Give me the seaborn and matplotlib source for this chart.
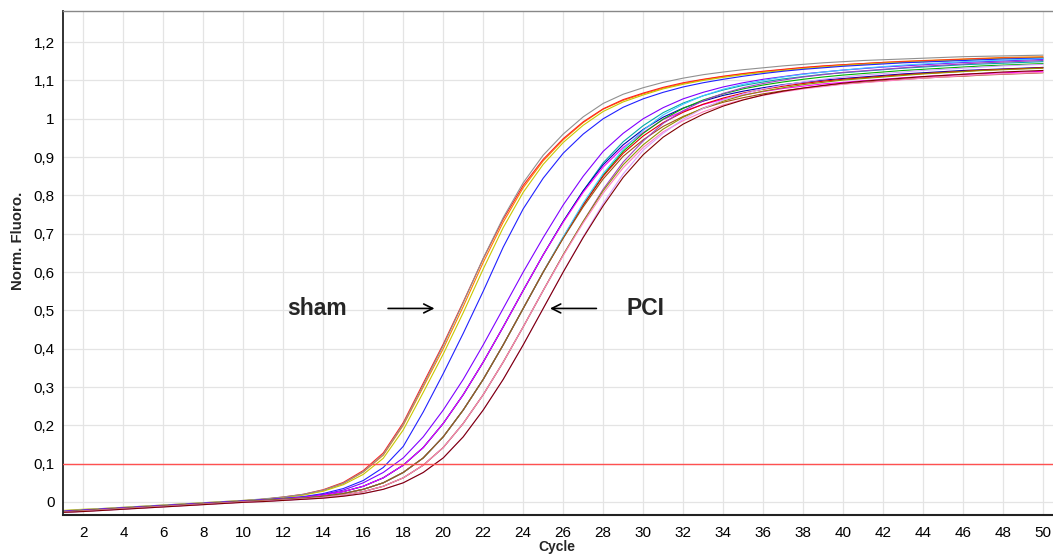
import numpy as np
import pandas as pd
import matplotlib
matplotlib.use("Agg")
import matplotlib.pyplot as plt
import seaborn as sns

cycles = list(range(1, 51))

# ---- sham group (earlier amplification) ----
sham_1 = [-0.024,-0.021,-0.018,-0.015,-0.012,-0.009,-0.006,-0.003,0.000,0.003,
          0.007,0.012,0.019,0.030,0.048,0.078,0.122,0.200,0.300,0.400,
          0.510,0.625,0.730,0.820,0.890,0.945,0.990,1.025,1.048,1.065,
          1.080,1.092,1.102,1.110,1.117,1.123,1.128,1.133,1.137,1.141,
          1.144,1.147,1.150,1.152,1.154,1.156,1.158,1.160,1.161,1.162]
sham_2 = [-0.026,-0.023,-0.019,-0.016,-0.013,-0.010,-0.007,-0.004,-0.001,0.003,
          0.007,0.013,0.020,0.032,0.051,0.082,0.128,0.207,0.310,0.412,
          0.522,0.635,0.738,0.826,0.894,0.948,0.992,1.026,1.050,1.067,
          1.082,1.094,1.103,1.111,1.118,1.124,1.129,1.134,1.138,1.141,
          1.144,1.147,1.149,1.151,1.153,1.155,1.157,1.158,1.159,1.160]
sham_3 = [-0.022,-0.019,-0.017,-0.014,-0.011,-0.008,-0.005,-0.002,0.001,0.004,
          0.007,0.011,0.018,0.028,0.045,0.072,0.114,0.188,0.286,0.386,
          0.494,0.608,0.716,0.808,0.881,0.938,0.983,1.019,1.044,1.062,
          1.078,1.090,1.100,1.108,1.115,1.121,1.126,1.131,1.135,1.139,
          1.142,1.145,1.147,1.149,1.151,1.153,1.155,1.157,1.158,1.159]
sham_4 = [-0.023,-0.020,-0.017,-0.014,-0.011,-0.008,-0.005,-0.002,0.001,0.004,
          0.008,0.013,0.020,0.031,0.049,0.079,0.124,0.203,0.305,0.408,
          0.520,0.636,0.742,0.833,0.905,0.960,1.005,1.040,1.064,1.081,
          1.095,1.106,1.115,1.122,1.128,1.133,1.138,1.142,1.146,1.149,
          1.152,1.154,1.156,1.158,1.160,1.162,1.163,1.164,1.165,1.166]
sham_5 = [-0.025,-0.022,-0.019,-0.016,-0.013,-0.010,-0.007,-0.004,-0.001,0.002,
          0.005,0.009,0.014,0.022,0.035,0.056,0.090,0.145,0.235,0.335,
          0.440,0.550,0.665,0.765,0.845,0.910,0.960,1.000,1.030,1.052,
          1.069,1.083,1.094,1.103,1.111,1.118,1.124,1.129,1.133,1.137,
          1.140,1.143,1.146,1.148,1.150,1.152,1.154,1.156,1.157,1.158]

# ---- PCI group (later amplification) ----
pci_a = [-0.025,-0.022,-0.019,-0.016,-0.013,-0.010,-0.007,-0.004,-0.001,0.002,
         0.005,0.009,0.013,0.020,0.031,0.050,0.077,0.115,0.170,0.240,
         0.320,0.410,0.505,0.600,0.690,0.775,0.850,0.915,0.962,1.000,
         1.029,1.052,1.069,1.083,1.094,1.103,1.110,1.117,1.122,1.127,
         1.131,1.135,1.138,1.141,1.144,1.147,1.149,1.151,1.153,1.155]
pci_b = [-0.025,-0.022,-0.019,-0.016,-0.013,-0.010,-0.007,-0.004,-0.001,0.002,
         0.005,0.008,0.012,0.018,0.027,0.041,0.063,0.096,0.142,0.205,
         0.280,0.365,0.457,0.552,0.645,0.732,0.812,0.885,0.940,0.982,
         1.016,1.041,1.060,1.075,1.087,1.096,1.104,1.110,1.116,1.120,
         1.124,1.128,1.132,1.135,1.138,1.141,1.143,1.145,1.147,1.149]
pci_c = [-0.025,-0.022,-0.019,-0.016,-0.013,-0.010,-0.007,-0.004,-0.001,0.002,
         0.005,0.008,0.012,0.018,0.027,0.041,0.063,0.096,0.142,0.205,
         0.280,0.365,0.457,0.552,0.645,0.732,0.812,0.880,0.932,0.972,
         1.004,1.028,1.046,1.061,1.072,1.081,1.089,1.095,1.101,1.105,
         1.109,1.113,1.117,1.120,1.123,1.126,1.128,1.130,1.132,1.134]
pci_d = [-0.025,-0.022,-0.019,-0.016,-0.013,-0.010,-0.007,-0.004,-0.001,0.002,
         0.005,0.008,0.012,0.018,0.027,0.041,0.063,0.096,0.142,0.205,
         0.280,0.365,0.457,0.552,0.645,0.730,0.808,0.874,0.925,0.964,
         0.998,1.020,1.037,1.051,1.062,1.071,1.079,1.085,1.091,1.095,
         1.099,1.103,1.107,1.110,1.113,1.116,1.118,1.120,1.122,1.124]
pci_e = [-0.026,-0.023,-0.020,-0.017,-0.014,-0.011,-0.008,-0.005,-0.002,0.001,
         0.004,0.007,0.010,0.015,0.022,0.033,0.050,0.077,0.115,0.170,
         0.240,0.320,0.410,0.505,0.600,0.690,0.775,0.853,0.915,0.962,
         0.999,1.027,1.049,1.065,1.078,1.088,1.096,1.103,1.109,1.114,
         1.118,1.122,1.126,1.129,1.132,1.135,1.138,1.140,1.142,1.144]
pci_f = [-0.026,-0.023,-0.020,-0.017,-0.014,-0.011,-0.008,-0.005,-0.002,0.001,
         0.004,0.007,0.010,0.015,0.022,0.033,0.050,0.077,0.115,0.170,
         0.240,0.320,0.410,0.505,0.600,0.690,0.775,0.850,0.910,0.955,
         0.990,1.017,1.038,1.054,1.067,1.077,1.085,1.092,1.098,1.103,
         1.107,1.111,1.115,1.118,1.121,1.124,1.127,1.129,1.131,1.133]
pci_g = [-0.026,-0.023,-0.020,-0.017,-0.014,-0.011,-0.008,-0.005,-0.002,0.001,
         0.004,0.007,0.010,0.015,0.022,0.033,0.050,0.077,0.115,0.170,
         0.240,0.320,0.410,0.505,0.600,0.692,0.780,0.857,0.920,0.970,
         1.010,1.038,1.060,1.077,1.090,1.100,1.109,1.116,1.122,1.127,
         1.132,1.136,1.140,1.143,1.146,1.149,1.151,1.153,1.155,1.157]
pci_h = [-0.026,-0.023,-0.020,-0.017,-0.014,-0.011,-0.008,-0.005,-0.002,0.001,
         0.004,0.007,0.010,0.015,0.022,0.033,0.050,0.077,0.115,0.170,
         0.240,0.320,0.410,0.505,0.600,0.688,0.770,0.843,0.902,0.945,
         0.980,1.006,1.027,1.043,1.055,1.065,1.073,1.080,1.086,1.091,
         1.095,1.099,1.103,1.106,1.109,1.111,1.114,1.116,1.118,1.120]
pci_i = [-0.027,-0.024,-0.021,-0.018,-0.015,-0.012,-0.009,-0.006,-0.003,0.000,
         0.002,0.005,0.008,0.012,0.018,0.027,0.041,0.063,0.096,0.142,
         0.205,0.280,0.365,0.457,0.552,0.645,0.732,0.816,0.887,0.942,
         0.988,1.021,1.047,1.066,1.081,1.092,1.101,1.109,1.115,1.121,
         1.125,1.129,1.133,1.137,1.140,1.143,1.146,1.148,1.150,1.152]
pci_j = [-0.027,-0.024,-0.021,-0.018,-0.015,-0.012,-0.009,-0.006,-0.003,0.000,
         0.002,0.005,0.008,0.012,0.018,0.027,0.041,0.063,0.096,0.142,
         0.205,0.280,0.365,0.457,0.552,0.645,0.732,0.812,0.880,0.932,
         0.973,1.004,1.028,1.046,1.061,1.072,1.081,1.089,1.095,1.101,
         1.105,1.109,1.113,1.117,1.120,1.123,1.126,1.128,1.130,1.132]
pci_k = [-0.027,-0.024,-0.021,-0.018,-0.015,-0.012,-0.009,-0.006,-0.003,0.000,
         0.002,0.005,0.008,0.012,0.018,0.027,0.041,0.063,0.096,0.142,
         0.205,0.280,0.365,0.457,0.552,0.643,0.728,0.806,0.872,0.925,
         0.966,0.995,1.018,1.036,1.050,1.061,1.070,1.078,1.084,1.090,
         1.094,1.098,1.102,1.106,1.109,1.112,1.115,1.117,1.119,1.121]
pci_l = [-0.027,-0.025,-0.022,-0.019,-0.016,-0.013,-0.010,-0.007,-0.004,-0.001,
         0.001,0.004,0.007,0.010,0.015,0.022,0.033,0.050,0.077,0.115,
         0.170,0.240,0.320,0.410,0.505,0.600,0.692,0.779,0.856,0.918,
         0.962,0.999,1.027,1.049,1.065,1.078,1.088,1.096,1.103,1.109,
         1.114,1.118,1.122,1.126,1.129,1.132,1.135,1.138,1.140,1.142]
pci_m = [-0.027,-0.025,-0.022,-0.019,-0.016,-0.013,-0.010,-0.007,-0.004,-0.001,
         0.001,0.004,0.007,0.010,0.015,0.022,0.033,0.050,0.077,0.115,
         0.170,0.240,0.320,0.410,0.505,0.600,0.690,0.773,0.847,0.906,
         0.952,0.986,1.012,1.033,1.049,1.062,1.072,1.080,1.087,1.093,
         1.098,1.102,1.106,1.110,1.113,1.116,1.119,1.122,1.124,1.126]

curves = {
    "sham_1": sham_1, "sham_2": sham_2, "sham_3": sham_3, "sham_4": sham_4, "sham_5": sham_5,
    "pci_a": pci_a, "pci_b": pci_b, "pci_c": pci_c, "pci_d": pci_d, "pci_e": pci_e,
    "pci_f": pci_f, "pci_g": pci_g, "pci_h": pci_h, "pci_i": pci_i, "pci_j": pci_j,
    "pci_k": pci_k, "pci_l": pci_l, "pci_m": pci_m,
}
colors = ["#ff8000", "#ff2020", "#c8c800", "#909090", "#2020ff",
          "#8000ff", "#00a8a8", "#0000b0", "#ff00ff", "#00b000",
          "#e00000", "#40c8ff", "#a05010", "#a040c0", "#909000",
          "#ff80c0", "#d8a0ff", "#800000"]

threshold = 0.1
x_ticks = list(range(2, 51, 2))
y_ticks = [0.0, 0.1, 0.2, 0.3, 0.4, 0.5, 0.6, 0.7, 0.8, 0.9, 1.0, 1.1, 1.2]
y_tick_labels = ["0", "0,1", "0,2", "0,3", "0,4", "0,5", "0,6", "0,7", "0,8", "0,9", "1", "1,1", "1,2"]

rows = []
for name, vals in curves.items():
    for c, v in zip(cycles, vals):
        rows.append((name, c, v))
df = pd.DataFrame(rows, columns=["well", "Cycle", "Norm. Fluoro."])

sns.set_style("white")
plt.rcParams["font.family"] = ["Liberation Sans", "DejaVu Sans"]

fig = plt.figure(figsize=(10.53, 5.56), dpi=100)
ax = fig.add_axes([63 / 1053, 1 - 515 / 556, 1 - 63 / 1053, (515 - 10.7) / 556])

sns.lineplot(data=df, x="Cycle", y="Norm. Fluoro.", hue="well",
             palette=colors, estimator=None, linewidth=0.8, legend=False, ax=ax)

ax.axhline(threshold, color="#ff5050", linewidth=1.0, zorder=5)

ax.set_xlim(0.98, 50.5)
ax.set_ylim(-0.034, 1.282)
ax.set_xticks(x_ticks)
ax.set_xticklabels([str(t) for t in x_ticks])
ax.set_yticks(y_ticks)
ax.set_yticklabels(y_tick_labels)
ax.grid(True, color="#e4e4e4", linewidth=0.9)
ax.set_axisbelow(True)
ax.tick_params(axis="both", labelsize=11, colors="#000000", length=3, width=0.8,
               color="#999999", pad=3)
ax.tick_params(axis="x", pad=5)

ax.spines["left"].set_color("#222222")
ax.spines["left"].set_linewidth(1.3)
ax.spines["bottom"].set_color("#222222")
ax.spines["bottom"].set_linewidth(1.5)
ax.spines["top"].set_color("#888888")
ax.spines["top"].set_linewidth(1.0)
ax.spines["right"].set_visible(False)

ax.set_xlabel("")
ax.set_ylabel("")
fig.text(557 / 1053, 1 - 547 / 556, "Cycle", fontsize=10, fontweight="bold",
         ha="center", va="center")
fig.text(18 / 1053, 1 - 241 / 556, "Norm. Fluoro.", fontsize=10.8, fontweight="bold",
         rotation=90, ha="center", va="center")

ax.text(13.7, 0.505, "sham", fontsize=16.5, fontweight="bold", ha="center", va="center")
ax.annotate("", xy=(19.7, 0.505), xytext=(17.1, 0.505),
            arrowprops=dict(arrowstyle="->", color="black", lw=1.2, mutation_scale=16))
ax.text(30.1, 0.505, "PCI", fontsize=16.5, fontweight="bold", ha="center", va="center")
ax.annotate("", xy=(25.2, 0.505), xytext=(27.8, 0.505),
            arrowprops=dict(arrowstyle="->", color="black", lw=1.2, mutation_scale=16))

fig.savefig("out.png", dpi=100)
